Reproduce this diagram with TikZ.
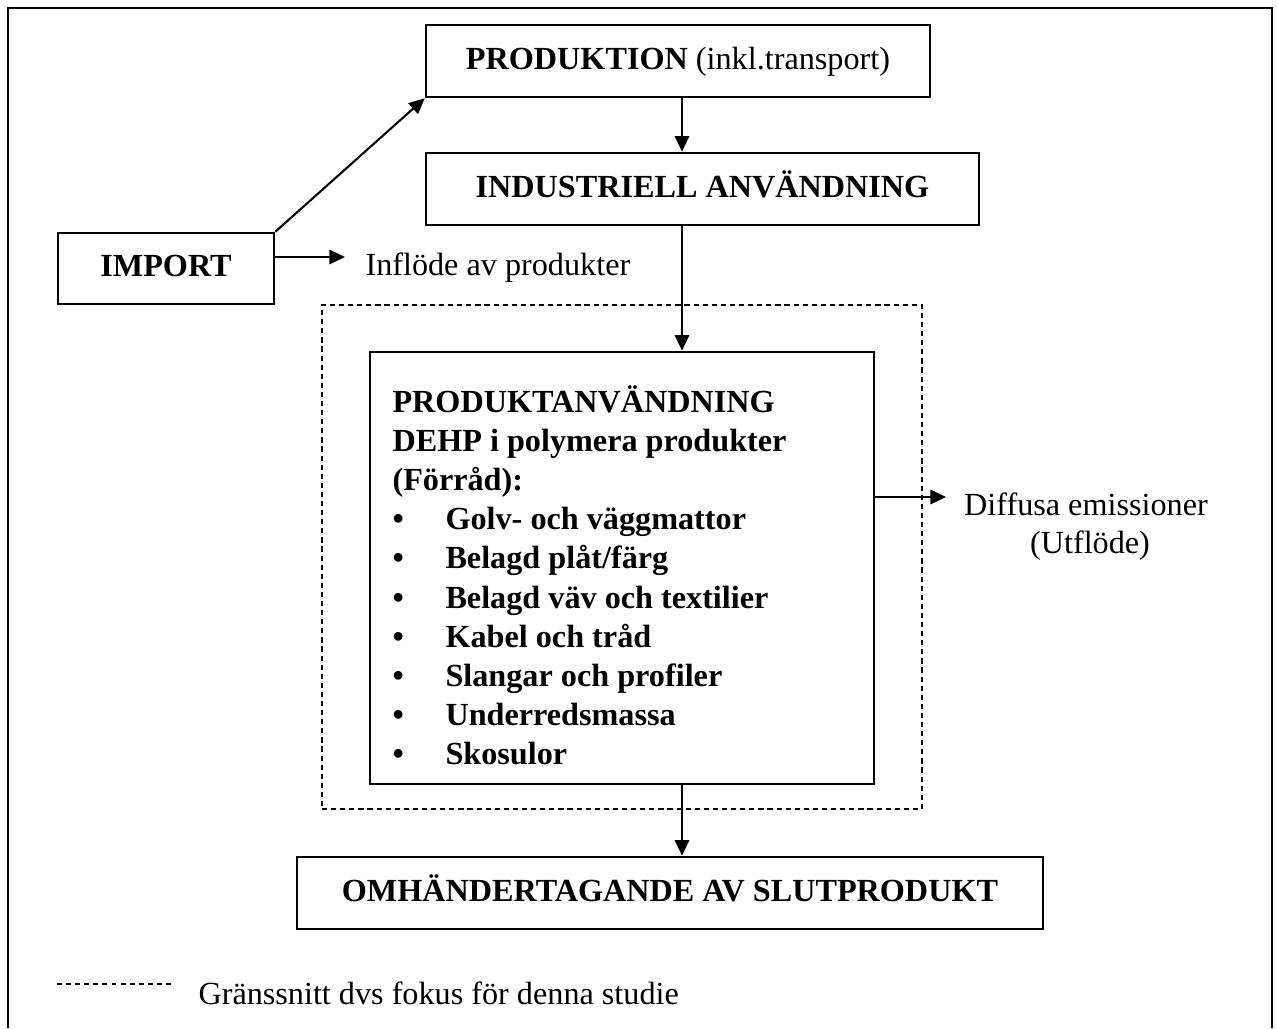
\documentclass[tikz,border=0pt]{standalone}
\usepackage{fontspec}
\setmainfont{Liberation Serif}
\usetikzlibrary{arrows.meta}
\begin{document}
\begin{tikzpicture}[x=0.385pt, y=-0.385pt,
  font=\fontsize{12.4}{14}\selectfont,
  box/.style={draw, line width=1pt, inner sep=0pt, text height=8.9pt, text depth=2.4pt,
    font=\fontsize{12.4}{14}\selectfont\bfseries},
  arr/.style={line width=0.8pt, -{Triangle[length=6pt,width=5.5pt]}},
  focusline/.style={draw, line width=0.6pt, dash pattern=on 2pt off 1.5pt},
  lbl/.style={inner sep=0pt, anchor=base west},
  boldlbl/.style={lbl, font=\fontsize{12.4}{14}\selectfont\bfseries},
]
\useasboundingbox (0,0) rectangle (1277,1028);
% outer frame
\draw[line width=0.8pt] (8,1028) -- (8,8) -- (1272,8) -- (1272,1028);

\coordinate (spine) at (682,0);

\node[box, minimum width=194.04pt, minimum height=27.72pt] (prod) at (678,61)
  {PRODUKTION {\mdseries (inkl.transport)}};
\node[box, minimum width=212.9pt, minimum height=27.72pt] (ind) at (702.5,189)
  {INDUSTRIELL ANVÄNDNING};
\node[box, minimum width=83.16pt, minimum height=27.3pt] (imp) at (166,268.5)
  {IMPORT};
\node[focusline, minimum width=231pt, minimum height=194.04pt, inner sep=0pt] (focus) at (622,557) {};
\node[draw, line width=1pt, minimum width=194.04pt, minimum height=166.3pt, inner sep=0pt] (use) at (622,568) {};
\node[box, minimum width=287.2pt, minimum height=27.72pt] (omh) at (670,893)
  {OMHÄNDERTAGANDE AV SLUTPRODUKT};

% list inside the use box
\node[boldlbl] (t1) at (392,412) {PRODUKTANVÄNDNING};
\node[boldlbl] (t2) at (392,451.2) {DEHP i polymera produkter};
\node[boldlbl] (t3) at (392,490.4) {(Förråd):};
\foreach \y/\txt [count=\i] in {529.6/Golv- och väggmattor, 568.8/Belagd plåt\slash färg,
  608/Belagd väv och textilier, 647.2/Kabel och tråd, 686.4/Slangar och profiler,
  725.6/Underredsmassa, 764.8/Skosulor}
  \node[boldlbl] (item\i) at (392,\y) {\makebox[20.4pt][l]{\textbullet}\txt};

% connectors
\draw[arr] (prod.south -| spine) -- (ind.north -| spine);
\draw[arr] (ind.south -| spine) -- (use.north -| spine);
\draw[arr] (use.south -| spine) -- (omh.north -| spine);
\draw[arr] (imp.north east) -- (prod.south west);

\coordinate (inTip) at (345,257);
\draw[arr] (imp.east |- inTip) -- (inTip);
\node[lbl] (infl) at (365,275) {Inflöde av produkter};

\coordinate (dTip) at (946,497);
\draw[arr] (use.east |- dTip) -- (dTip);
\node[inner sep=0pt, anchor=base] (diff1) at (1086,515) {Diffusa emissioner};
\node[inner sep=0pt, anchor=base] (diff2) at (1090,553) {(Utflöde)};

% legend
\coordinate (legA) at (57,984);
\coordinate (legB) at (174,984);
\draw[line width=0.5pt, dash pattern=on 1.9pt off 1.6pt] (legA) -- (legB);
\node[lbl] (legtxt) at (198,1004) {Gränssnitt dvs fokus för denna studie};
\end{tikzpicture}
\end{document}
